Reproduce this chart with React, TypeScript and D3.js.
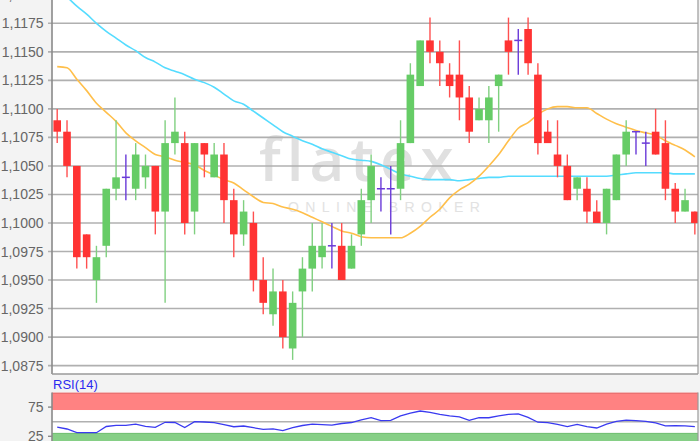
import React from "react";
import * as d3 from "d3";

// ---- data ----
const OPEN = [1.109,1.108,1.105,1.099,1.095,1.098,1.103,1.104,1.103,1.104,1.105,1.101,1.107,1.107,1.101,1.107,1.104,1.106,1.102,1.099,1.100,1.095,1.092,1.094,1.089,1.094,1.096,1.097,1.098,1.098,1.096,1.099,1.102,1.103,1.103,1.103,1.107,1.112,1.116,1.115,1.113,1.113,1.111,1.109,1.109,1.112,1.116,1.116,1.117,1.113,1.108,1.106,1.105,1.103,1.103,1.101,1.100,1.102,1.106,1.108,1.107,1.108,1.107,1.103,1.101,1.101];
const HIGH = [1.110,1.109,1.105,1.099,1.098,1.103,1.109,1.106,1.107,1.106,1.105,1.109,1.111,1.108,1.107,1.107,1.107,1.107,1.103,1.102,1.101,1.097,1.096,1.095,1.094,1.097,1.100,1.100,1.100,1.100,1.099,1.103,1.106,1.104,1.105,1.109,1.114,1.116,1.118,1.116,1.114,1.116,1.112,1.111,1.112,1.113,1.118,1.117,1.118,1.114,1.109,1.109,1.106,1.104,1.104,1.102,1.103,1.106,1.109,1.108,1.108,1.110,1.109,1.1035,1.103,1.101];
const LOW = [1.107,1.104,1.096,1.096,1.093,1.097,1.102,1.102,1.102,1.103,1.099,1.093,1.106,1.099,1.099,1.104,1.104,1.100,1.097,1.098,1.094,1.092,1.091,1.089,1.088,1.090,1.094,1.096,1.096,1.095,1.096,1.098,1.100,1.101,1.099,1.102,1.107,1.112,1.114,1.112,1.111,1.109,1.107,1.109,1.107,1.108,1.113,1.113,1.113,1.106,1.107,1.104,1.102,1.102,1.100,1.100,1.099,1.102,1.105,1.106,1.105,1.106,1.102,1.100,1.101,1.099];
const CLOSE = [1.108,1.105,1.097,1.097,1.097,1.103,1.104,1.104,1.106,1.105,1.101,1.107,1.108,1.100,1.107,1.106,1.106,1.102,1.099,1.101,1.095,1.093,1.094,1.090,1.093,1.096,1.098,1.098,1.098,1.095,1.098,1.102,1.105,1.103,1.103,1.107,1.113,1.116,1.115,1.114,1.112,1.111,1.108,1.110,1.111,1.113,1.115,1.116,1.114,1.107,1.107,1.105,1.102,1.104,1.101,1.100,1.103,1.106,1.108,1.108,1.107,1.106,1.103,1.101,1.102,1.100];

const MA_SHORT = [1.1137,1.1136,1.1126,1.1116,1.1105,1.1097,1.1089,1.1079,1.1072,1.1066,1.1060,1.1058,1.1055,1.1053,1.1051,1.1046,1.1042,1.1038,1.1035,1.1029,1.1023,1.1018,1.1017,1.1014,1.1012,1.1009,1.1005,1.1001,1.0997,1.0993,1.0991,1.0988,1.0987,1.0987,1.0987,1.0987,1.0991,1.0997,1.1005,1.1012,1.1022,1.1029,1.1034,1.1041,1.1050,1.1060,1.1072,1.1083,1.1088,1.1095,1.1100,1.1102,1.1102,1.1101,1.1101,1.1096,1.1091,1.1087,1.1084,1.1081,1.1079,1.1077,1.1072,1.1068,1.1064,1.1058];
const MA_LONG = [1.1205,1.1198,1.1190,1.1183,1.1175,1.1168,1.1162,1.1156,1.1151,1.1145,1.1141,1.1136,1.1133,1.1130,1.1126,1.1123,1.1119,1.1113,1.1107,1.1104,1.1098,1.1092,1.1086,1.1080,1.1076,1.1072,1.1069,1.1065,1.1062,1.1059,1.1056,1.1055,1.1054,1.1051,1.1047,1.1043,1.1041,1.1039,1.1038,1.1038,1.1038,1.1037,1.1038,1.1039,1.1040,1.1040,1.1041,1.1041,1.1041,1.1041,1.1041,1.1041,1.1041,1.1041,1.1041,1.1041,1.1041,1.1042,1.1043,1.1044,1.1044,1.1044,1.1044,1.1043,1.1043,1.1043];
const RSI = [40.9,37.5,31.2,31.2,31.2,41.8,43.7,43.8,45.7,42.1,40.4,49,48.6,40,50,49.5,48.5,45,41.4,42.6,39.7,37,37.8,34.8,39.7,43.5,45.9,45,44.3,46.9,48.6,53.3,56.8,51.7,52.2,59.8,64.6,68.3,66.1,62.7,59.8,58.4,52.2,56.8,56.8,59.8,62.5,63.5,57.5,49.1,48.5,45.4,41.6,45.4,41.6,39.2,46,50.5,52.6,51.7,50.7,48.1,43,43.3,43,41.6];

const PRICE_TICKS = [1.0875,1.09,1.0925,1.095,1.0975,1.1,1.1025,1.105,1.1075,1.11,1.1125,1.115,1.1175,1.12];
const RSI_TICKS = [25, 75];
const RSI_MID = 50;
const RSI_OVERBOUGHT = 70;
const RSI_OVERSOLD = 30;
const RSI_LABEL = "RSI(14)";

const FONT = "'Liberation Sans', Arial, Helvetica, sans-serif";

export default function App() {
  const W = 700, H = 441;
  const PL = 52, PR = 698, PT = 0, PB = 374;
  const RT = 392.5, RB = 460;
  const n = OPEN.length;
  const step = 9.81;
  const x = d3.scaleBand<number>().domain(d3.range(n)).range([52.3, 52.3 + n * step]);
  const cx = (i: number) => (x(i) as number) + x.bandwidth() / 2;
  const y = d3.scaleLinear().domain([1.0875, 1.1175]).range([365.6, 23.3]);
  const yR = d3.scaleLinear().domain([0, 100]).range([450.9, 392.5]);
  const bw = 7.6;

  const maPath = d3.line<number>().x((_, i) => cx(i)).y((d) => y(d)).curve(d3.curveMonotoneX);
  const rsiPath = d3.line<number>().x((_, i) => cx(i)).y((d) => yR(d));
  const fmt = (v: number) => d3.format(".4f")(v).replace(".", ",");

  const RED = "#ff3333", RED_W = "#ff5050";
  const GREEN = "#66cc66", GREEN_W = "#80d080";
  const DOJI = "#6a3ad8";

  return (
    <svg width={W} height={H} style={{ position: "absolute", left: 0, top: 0, display: "block" }} fontFamily={FONT}>
      <defs>
        <clipPath id="mainClip"><rect x={PL} y={PT} width={PR - PL} height={PB - PT} /></clipPath>
        <clipPath id="rsiClip"><rect x={PL} y={RT} width={PR - PL} height={RB - RT} /></clipPath>
      </defs>
      <rect x={0} y={0} width={W} height={H} fill="#f3f3f3" />
      {/* main panel */}
      <rect x={PL} y={PT} width={PR - PL} height={PB - PT} fill="#ffffff" />
      {/* watermark */}
      <g clipPath="url(#mainClip)">
        <text x={259} y={181} fontSize={60} fontWeight={600} fill="#e0e0e0" letterSpacing={6} fontFamily="'Open Sans', 'DejaVu Sans', sans-serif">flatex</text>
        <text x={288} y={212} fontSize={14} fill="#e2e2e2" letterSpacing={6.4} fontFamily={FONT}>ONLINE BROKER</text>
      </g>
      {PRICE_TICKS.map((t) => (
        <g key={t}>
          <line x1={PL - 4} x2={PR} y1={y(t)} y2={y(t)} stroke="#b0b0b0" strokeWidth={1.6} />
          <text x={43.5} y={y(t)} dy="0.36em" textAnchor="end" fontSize={14} fill="#666">{fmt(t)}</text>
        </g>
      ))}
      <g clipPath="url(#mainClip)">
        <path d={maPath(MA_LONG) || ""} fill="none" stroke="#55dcff" strokeWidth={1.6} />
        <path d={maPath(MA_SHORT) || ""} fill="none" stroke="#ffbf4a" strokeWidth={1.6} />
        {OPEN.map((o, i) => {
          const c = CLOSE[i];
          const xc = cx(i);
          if (o === c) {
            return (
              <g key={i}>
                <line x1={xc} x2={xc} y1={y(HIGH[i])} y2={y(LOW[i])} stroke={DOJI} strokeWidth={1.4} />
                <line x1={xc - 4} x2={xc + 4} y1={y(o)} y2={y(o)} stroke={DOJI} strokeWidth={1.5} />
              </g>
            );
          }
          const up = c > o;
          const top = y(Math.max(o, c));
          const bot = y(Math.min(o, c));
          return (
            <g key={i}>
              <line x1={xc} x2={xc} y1={y(HIGH[i])} y2={y(LOW[i])} stroke={up ? GREEN_W : RED_W} strokeWidth={1.4} />
              <rect x={xc - bw / 2} y={top} width={bw} height={Math.max(1, bot - top)} fill={up ? GREEN : RED} />
            </g>
          );
        })}
      </g>
      <line x1={PL} x2={PL} y1={PT} y2={PB} stroke="#8a8a8a" strokeWidth={1.6} />
      <line x1={PR} x2={PR} y1={PT} y2={PB} stroke="#9a9a9a" strokeWidth={1.2} />
      <line x1={PL} x2={PR} y1={PB} y2={PB} stroke="#9a9a9a" strokeWidth={1.4} />

      {/* RSI panel */}
      <text x={53} y={389} fontSize={13} fill="#2a2af0">{RSI_LABEL}</text>
      <rect x={PL} y={RT} width={PR - PL} height={RB - RT} fill="#ffffff" />
      <g clipPath="url(#rsiClip)">
        <rect x={PL} y={yR(100)} width={PR - PL} height={yR(RSI_OVERBOUGHT) - yR(100)} fill="#ff8282" />
        <line x1={PL} x2={PR} y1={yR(100) + 0.5} y2={yR(100) + 0.5} stroke="#d86060" strokeWidth={1.2} />
        <rect x={PL} y={yR(RSI_OVERSOLD)} width={PR - PL} height={yR(0) - yR(RSI_OVERSOLD) + 20} fill="#86cf86" />
        <line x1={PL} x2={PR} y1={yR(RSI_OVERSOLD)} y2={yR(RSI_OVERSOLD)} stroke="#6cbc6c" strokeWidth={1} />
        <line x1={PL} x2={PR} y1={yR(RSI_MID)} y2={yR(RSI_MID)} stroke="#b0b0b0" strokeWidth={1.4} />
        <path d={rsiPath(RSI) || ""} fill="none" stroke="#3a3af0" strokeWidth={1.3} />
      </g>
      {RSI_TICKS.map((t) => (
        <g key={t}>
          <line x1={PL - 4} x2={PL} y1={yR(t)} y2={yR(t)} stroke="#8a8a8a" strokeWidth={1.4} />
          <text x={43.5} y={yR(t)} dy="0.36em" textAnchor="end" fontSize={14} fill="#666">{t}</text>
        </g>
      ))}
      <line x1={PL} x2={PL} y1={RT} y2={H} stroke="#8a8a8a" strokeWidth={1.6} />
      <line x1={PR} x2={PR} y1={RT} y2={H} stroke="#9a9a9a" strokeWidth={1.2} />
    </svg>
  );
}
